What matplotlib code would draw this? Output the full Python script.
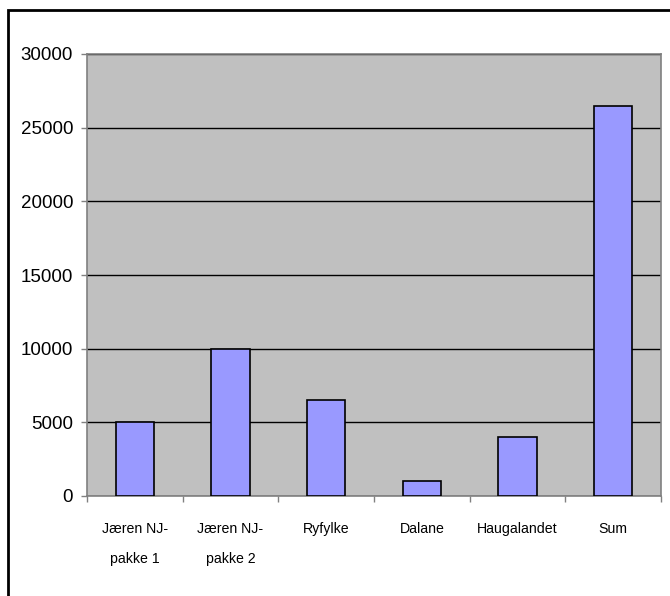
import matplotlib.pyplot as plt
from matplotlib.patches import Rectangle

categories = ['Jæren NJ-\npakke 1', 'Jæren NJ-\npakke 2', 'Ryfylke', 'Dalane', 'Haugalandet', 'Sum']
values = [5000, 10000, 6500, 1000, 4000, 26500]
yticks = [0, 5000, 10000, 15000, 20000, 25000, 30000]

plt.rcParams['font.family'] = ['Liberation Sans', 'DejaVu Sans']

fig = plt.figure(figsize=(6.70, 5.96), dpi=100)
W, H = 670, 596
ax = fig.add_axes([87 / W, (596 - 496) / H, 574 / W, 442 / H])

ax.set_facecolor('#c0c0c0')
x = list(range(len(categories)))
ax.bar(x, values, width=0.4, color='#9999ff', edgecolor='black', linewidth=1.2, zorder=3)

ax.set_ylim(0, 30000)
ax.set_xlim(-0.5, len(categories) - 0.5)
ax.set_yticks(yticks)
ax.set_yticklabels([str(v) for v in yticks], fontsize=13.5)
ax.yaxis.grid(True, color='black', linewidth=1.0, zorder=1)
ax.set_axisbelow(True)

# category labels centred, tick marks between categories
ax.set_xticks(x)
ax.set_xticklabels(categories, fontsize=10.2, linespacing=2.4)
ax.tick_params(axis='x', which='major', length=0, pad=19)
ax.set_xticks([i + 0.5 for i in range(-1, len(categories))], minor=True)
ax.tick_params(axis='x', which='minor', length=4.5, color='#808080', width=1)
ax.tick_params(axis='y', length=4, color='#808080', width=1, pad=6)

for s in ax.spines.values():
    s.set_color('#808080')
    s.set_linewidth(1.2)

# outer frame of the chart
fig.patches.append(Rectangle((8 / W, -0.1), 1.2, 1 - 10 / H + 0.1, transform=fig.transFigure,
                             fill=False, edgecolor='black', linewidth=2))

fig.savefig('out.png', dpi=100)
